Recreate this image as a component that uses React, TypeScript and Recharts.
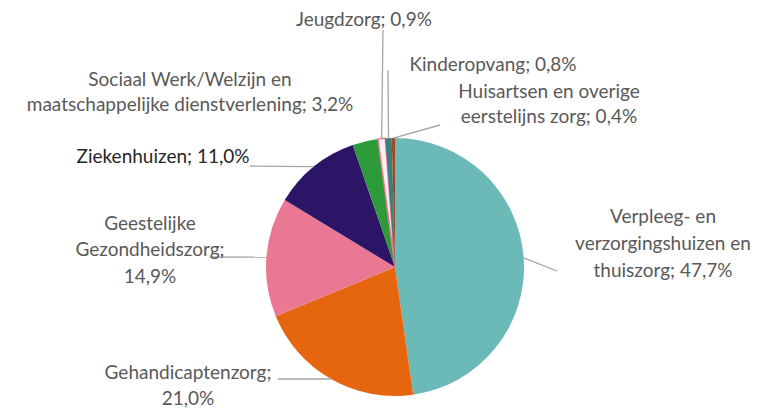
import React from "react";
import { PieChart, Pie, Cell } from "recharts";

const categories = [
  "Verpleeg- en verzorgingshuizen en thuiszorg",
  "Gehandicaptenzorg",
  "Geestelijke Gezondheidszorg",
  "Ziekenhuizen",
  "Sociaal Werk/Welzijn en maatschappelijke dienstverlening",
  "Jeugdzorg",
  "Kinderopvang",
  "Huisartsen en overige eerstelijns zorg",
];
const values = [47.7, 21.0, 14.9, 11.0, 3.2, 0.9, 0.8, 0.4];
const labelTexts: string[][] = [
  ["Verpleeg- en", "verzorgingshuizen en", "thuiszorg; 47,7%"],
  ["Gehandicaptenzorg;", "21,0%"],
  ["Geestelijke", "Gezondheidszorg;", "14,9%"],
  ["Ziekenhuizen; 11,0%"],
  ["Sociaal Werk/Welzijn en", "maatschappelijke dienstverlening; 3,2%"],
  ["Jeugdzorg; 0,9%"],
  ["Kinderopvang; 0,8%"],
  ["Huisartsen en overige", "eerstelijns zorg; 0,4%"],
];

const colors = ["#6bbab7", "#e6650f", "#ea7894", "#2c1566", "#2e9b3a", "#fdf0f3", "#3b7e80", "#a4471c"];
const strokes = ["none", "none", "none", "none", "none", "#ec7a96", "none", "none"];

// label layout: text centre, line spacing, leader-line end near the text
const labelLayout = [
  { x: 663, y: 215, dy: 27, lx: 557, ly: 271, dark: false },
  { x: 188, y: 371, dy: 26, lx: 278, ly: 379, dark: false },
  { x: 150, y: 222, dy: 26.5, lx: 210, ly: 257, dark: false },
  { x: 163, y: 155, dy: 26, lx: 250, ly: 166, dark: true },
  { x: 190, y: 78, dy: 25, lx: null, ly: null, dark: false },
  { x: 364, y: 18, dy: 25, lx: 383, ly: 30, dark: false },
  { x: 493, y: 63, dy: 25, lx: 388, ly: 70, dark: false },
  { x: 549, y: 90, dy: 25, lx: 440, ly: 125, dark: false },
];

const data = categories.map((name, i) => ({ name, value: values[i] }));

const RAD = Math.PI / 180;

const renderLabel = (props: any) => {
  const { cx, cy, midAngle, outerRadius, index } = props;
  const lay = labelLayout[index];
  const lines = labelTexts[index];
  const ex = cx + outerRadius * Math.cos(-midAngle * RAD);
  const ey = cy + outerRadius * Math.sin(-midAngle * RAD);
  return (
    <g key={`lbl-${index}`}>
      {lay.lx !== null && (
        <line x1={lay.lx} y1={lay.ly as number} x2={ex} y2={ey} stroke="#a6a6a6" strokeWidth={1.3} />
      )}
      {lines.map((t, j) => (
        <text
          key={j}
          x={lay.x}
          y={lay.y + j * lay.dy}
          textAnchor="middle"
          dominantBaseline="central"
          fontFamily="Lato, 'Open Sans', sans-serif"
          fontSize={19}
          fill={lay.dark ? "#262626" : "#595959"}
        >
          {t}
        </text>
      ))}
    </g>
  );
};

export default function App() {
  return (
    <div style={{ position: "absolute", left: 0, top: 0, width: 764, height: 408, background: "#fff" }}>
      <PieChart width={764} height={408} margin={{ top: 0, right: 0, bottom: 0, left: 0 }}>
        <Pie
          data={data}
          dataKey="value"
          nameKey="name"
          cx={395}
          cy={267}
          outerRadius={129}
          startAngle={90}
          endAngle={-270}
          isAnimationActive={false}
          label={renderLabel}
          labelLine={false}
        >
          {data.map((d, i) => (
            <Cell key={d.name} fill={colors[i]} stroke={strokes[i]} strokeWidth={strokes[i] === "none" ? 0 : 1.5} />
          ))}
        </Pie>
      </PieChart>
    </div>
  );
}
